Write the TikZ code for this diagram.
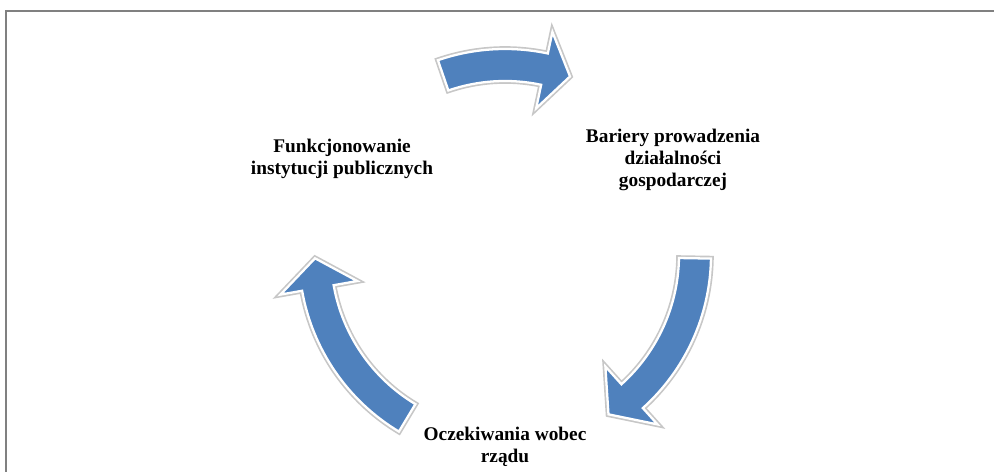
\documentclass[tikz,border=0pt]{standalone}
\usepackage{fontspec}
\setmainfont{Liberation Serif}
\usetikzlibrary{positioning}
\definecolor{arrowblue}{RGB}{79,129,189}

\newcommand{\cyclearrow}[3]{%
  \path[cycarrow] (#1:206) arc[start angle=#1, end angle=#2, radius=206]
    -- (#2:228) -- (#3:190) -- (#2:150) -- (#2:174)
    arc[start angle=#2, end angle=#1, radius=174] -- cycle;}

\begin{document}
\begin{tikzpicture}[x=0.02cm, y=0.02cm, thick,
                    stage/.style={font=\bfseries\fontsize{11}{12.5}\selectfont, align=center, inner sep=0pt},
                    cycarrow/.style={fill=arrowblue, draw=white, line width=1.3pt,
                                     preaction={draw=black!22, line width=3.2pt}},
                    frame/.style={draw=black!50, line width=1.1pt}]

  \useasboundingbox (0,0) rectangle (994,472);
  \draw[frame] (994,461) -| (6,0);

  \coordinate (C) at (505,217);

  \node[stage] at (342,313)    (inst)  {Funkcjonowanie\\instytucji publicznych};
  \node[stage] at (673,312)    (bar)   {Bariery prowadzenia\\działalności\\gospodarczej};
  \node[stage] at (505,25)     (ocz)   {Oczekiwania wobec\\rządu};

  \begin{scope}[shift={(C)}]
    \cyclearrow{109}{78}{70}
    \cyclearrow{-1}{-48}{-57}
    \cyclearrow{239}{190}{181}
  \end{scope}

\end{tikzpicture}
\end{document}
